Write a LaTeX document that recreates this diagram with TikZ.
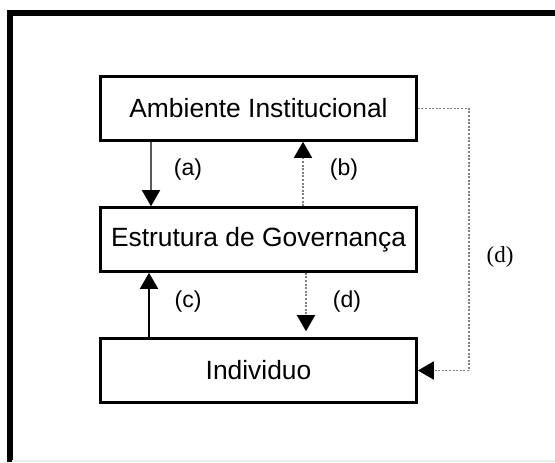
\documentclass[tikz,border=0pt]{standalone}
\usepackage{fontspec}
\setmainfont{Liberation Sans}
\newfontfamily\serifd{Liberation Serif}
\usetikzlibrary{arrows.meta}

\begin{document}
\begin{tikzpicture}[x=0.5pt,y=-0.5pt,
    caixa/.style={draw,line width=1.3pt,minimum width=158pt,minimum height=32pt,inner sep=0pt,font=\fontsize{13.2}{16}\selectfont},
    rot/.style={black,font=\fontsize{11.5}{14}\selectfont},
    seta/.style={-{Triangle[length=8pt,width=9pt,color=black]}},
    pont/.style={seta,gray,line width=0.8pt,dash pattern=on 1pt off 0.8pt}]
        \useasboundingbox (0,0) rectangle (555,462);
        \draw[line width=2.6pt] (10,462) |- (555,13);
        \draw[gray!15,line width=0.6pt] (12,461) -- (555,461);
        \node[caixa] (amb) at (258.5,108.5) {Ambiente Institucional};
        \node[caixa] (est) at (258.5,239.5) {Estrutura de Governança};
        \node[caixa] (ind) at (258.5,370.5) {Individuo};
        \coordinate (xa) at (151,0);
        \coordinate (xb) at (303,0);
        \coordinate (xc) at (149,0);
        \coordinate (xd) at (306,0);
        \coordinate (xe) at (469,0);
        \draw[seta,gray!70!black,line width=0.7pt] (xa |- amb.south) -- node[rot,pos=0.43,xshift=18.5pt]{(a)} (xa |- est.north);
        \draw[pont] (xb |- est.north) -- node[rot,pos=0.57,xshift=20.5pt]{(b)} (xb |- amb.south);
        \draw[seta,line width=0.8pt] (xc |- ind.north) -- node[rot,pos=0.55,xshift=19.5pt]{(c)} (xc |- est.south);
        \draw[pont,shorten >=3pt] (xd |- est.south) -- node[rot,pos=0.45,xshift=20.5pt]{(d)} (xd |- ind.north);
        \draw[pont] (amb.east) -| node[rot,pos=0.75,xshift=15.5pt,yshift=-8.75pt,font=\serifd\fontsize{11.5}{14}\selectfont]{(d)} (xe |- ind.east) -- (ind.east);
        % \draw[very thin,color=gray] (0,0) grid[step=50] (555,462);
\end{tikzpicture}
\end{document}
